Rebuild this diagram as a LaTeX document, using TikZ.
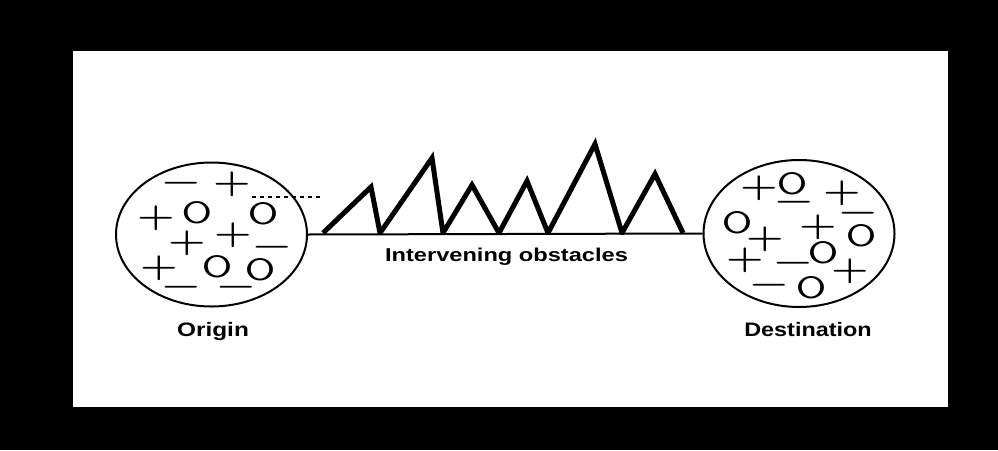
\documentclass[tikz,border=0pt]{standalone}
\usepackage{fontspec}
\usepackage{graphicx}
\usetikzlibrary{shapes.geometric}
\newfontfamily\labfont{Liberation Sans}
\newcommand\wid[2][1.3]{\scalebox{#1}[1]{#2}}
\newcommand\Pl{\wid{+}}
\newcommand\Mi{\wid{−}}
\newcommand\Oh{\wid[1.42]{O}}
\begin{document}
\begin{tikzpicture}[x=1pt,y=-1pt,
  pm/.style={inner sep=0pt, outer sep=0pt, anchor=base, yshift=-8.25pt, font=\bfseries\fontsize{33}{33}\selectfont},
  ob/.style={inner sep=0pt, outer sep=0pt, anchor=center, font=\sffamily\fontsize{31}{31}\selectfont},
  lab/.style={inner sep=0pt, anchor=base, font=\labfont\bfseries\fontsize{19.5}{20}\selectfont},
  blob/.style={draw, ellipse, line width=2pt, minimum width=191pt, inner sep=0pt},
  peaks/.style={line width=5pt, line join=miter},
  thin/.style={line width=2pt},
  leader/.style={line width=1.2pt, dash pattern=on 3.5pt off 4.5pt}
]
\useasboundingbox (0,0) rectangle (998,450);
\fill[black] (0,0) rectangle (998,450);
\fill[white] (73,51) rectangle (948,407);

% circles
\node[blob, minimum height=144pt] (origin) at (211.5,234.5) {};
\node[blob, minimum height=147pt] (dest) at (799,233.5) {};

% ground line
\draw[thin] (origin.east) -- (dest.west);

% obstacles
\begin{scope}
\clip (300,100) rectangle (700,234);
\draw[peaks] (323,233) -- (371,187) -- (380,233) -- (432,158) -- (443,233)
  -- (472,185) -- (499,233) -- (527,181) -- (548,233) -- (595,144)
  -- (622,233) -- (655,174) -- (683,233);
\end{scope}

% dashed leader
\coordinate (da) at (252,197);
\coordinate (db) at (320,197);
\draw[leader] (da) -- (db);

% origin symbols
\node[pm] (l1) at (181,183) {\Mi};
\node[pm] (l2) at (232,184) {\Pl};
\node[pm] (l3) at (156,218) {\Pl};
\node[ob] (l4) at (197,213) {\Oh};
\node[ob] (l5) at (263,214) {\Oh};
\node[pm] (l6) at (233,235) {\Pl};
\node[pm] (l7) at (187,243) {\Pl};
\node[pm] (l8) at (272,247) {\Mi};
\node[pm] (l9) at (159,268) {\Pl};
\node[pm] (l10) at (181,287) {\Mi};
\node[ob] (l11) at (217,267) {\Oh};
\node[ob] (l12) at (260,270) {\Oh};
\node[pm] (l13) at (236,287) {\Mi};

% destination symbols
\node[pm] (r1) at (759,188) {\Pl};
\node[ob] (r2) at (792,184) {\Oh};
\node[pm] (r3) at (794,202) {\Mi};
\node[pm] (r4) at (842,193) {\Pl};
\node[pm] (r5) at (858,213) {\Mi};
\node[ob] (r6) at (737,223) {\Oh};
\node[pm] (r7) at (765,239) {\Pl};
\node[pm] (r8) at (818,227) {\Pl};
\node[ob] (r9) at (861,236) {\Oh};
\node[ob] (r10) at (823,253) {\Oh};
\node[pm] (r11) at (745,260) {\Pl};
\node[pm] (r12) at (793,263) {\Mi};
\node[pm] (r13) at (850,271) {\Pl};
\node[pm] (r14) at (769,285) {\Mi};
\node[ob] (r15) at (811,288) {\Oh};

% labels
\node[lab, font=\labfont\bfseries\fontsize{18.6}{20}\selectfont] (obst) at (506.5,261) {\wid[1.27]{Intervening obstacles}};
\node[lab] (olab) at (213,336) {\wid[1.25]{Origin}};
\node[lab] (dlab) at (808,336) {\wid[1.2]{Destination}};
\end{tikzpicture}
\end{document}
